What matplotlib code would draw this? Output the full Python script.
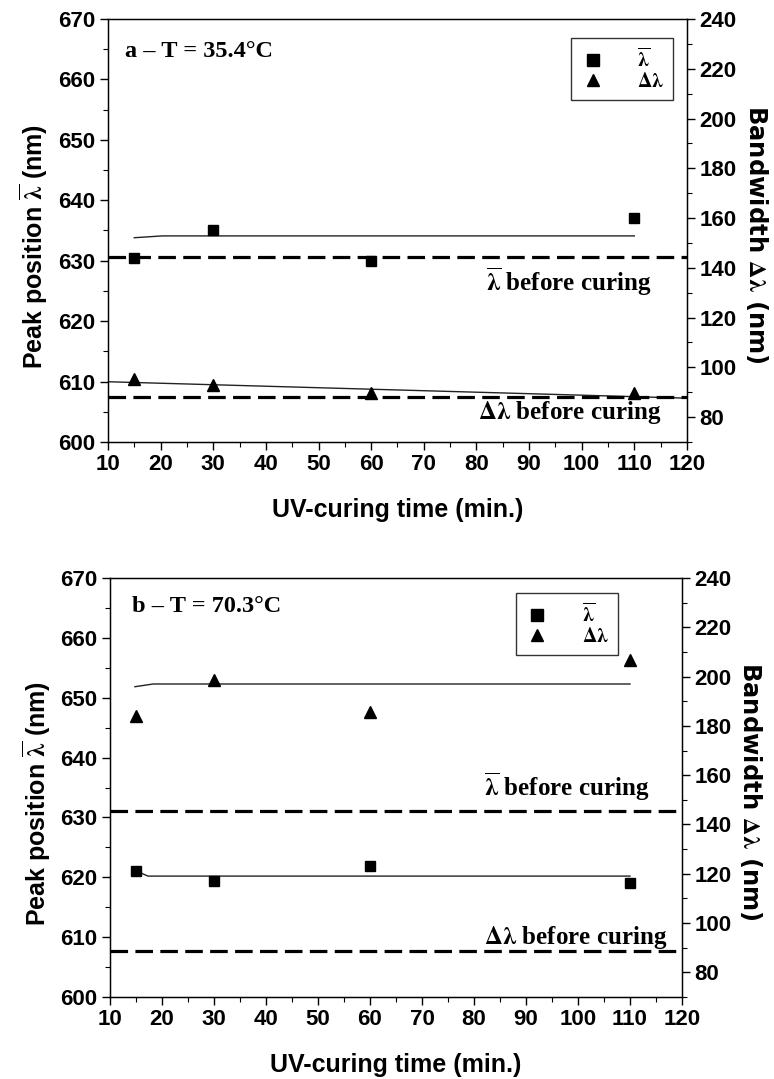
import matplotlib
matplotlib.use("Agg")
import matplotlib.pyplot as plt
from matplotlib.lines import Line2D
from matplotlib.ticker import MultipleLocator

plt.rcParams['font.family'] = ['Liberation Sans', 'DejaVu Sans']
plt.rcParams['mathtext.fontset'] = 'stix'

# ---------------- data ----------------
time_min = [15, 30, 60, 110]

# panel a (T = 35.4 C)
a_lam = [630.5, 635.1, 630.0, 637.1]          # left axis (nm)
a_dlam = [95.3, 92.9, 89.7, 89.7]             # right axis (nm)
a_lam_fit_x = [15, 20.3, 110]
a_lam_fit_y = [633.8, 634.1, 634.1]
a_dlam_fit_x = [10, 120]
a_dlam_fit_y = [94.2, 87.6]
a_lam_before = 630.6                          # left axis
a_dlam_before = 88.1                          # right axis

# panel b (T = 70.3 C)
b_lam = [621.0, 619.4, 621.9, 619.0]
b_dlam = [184.2, 198.7, 185.8, 206.8]
b_lam_fit_x = [16, 17.3, 110]
b_lam_fit_y = [620.7, 620.2, 620.2]
b_dlam_fit_x = [14.8, 18.3, 110]
b_dlam_fit_y = [195.9, 197.0, 197.0]
b_lam_before = 631.05
b_dlam_before = 88.7

xticks = list(range(10, 121, 10))
left_ticks = list(range(600, 671, 10))
right_ticks = list(range(80, 241, 20))

LAMBAR = r'$\mathbf{\overline{\lambda}}$'
DLAM = r'$\mathbf{\Delta\lambda}$'

fig = plt.figure(figsize=(7.74, 10.79), dpi=100)

SERIF = ['Liberation Serif', 'DejaVu Serif']
TICKFS = 16
LABELFS = 18


def panel(rect, lam, dlam, lfx, lfy, dfx, dfy, lam_before, dlam_before,
          title, title_xy, leg_anchor, lb_xy, db_xy):
    ax = fig.add_axes(rect)
    ax2 = ax.twinx()
    ax.set_xlim(10, 120)
    ax.set_ylim(600, 670)
    ax2.set_ylim(70, 240)
    ax.set_xticks(xticks)
    ax.set_yticks(left_ticks)
    ax2.set_yticks(right_ticks)
    ax.xaxis.set_minor_locator(MultipleLocator(5))
    ax.yaxis.set_minor_locator(MultipleLocator(5))
    ax2.yaxis.set_minor_locator(MultipleLocator(10))
    for a in (ax, ax2):
        a.tick_params(which='major', direction='out', length=6, width=1,
                      labelsize=TICKFS, pad=3)
        a.tick_params(which='minor', direction='out', length=3.5, width=0.8)
        for lab in a.get_xticklabels() + a.get_yticklabels():
            lab.set_fontweight('bold')
    ax.tick_params(axis='x', which='both', top=False)

    # fit lines
    ax.plot(lfx, lfy, color='#222222', lw=1.0)
    ax2.plot(dfx, dfy, color='#222222', lw=1.0)
    # before-curing lines
    ax.axhline(lam_before, color='black', lw=2.3, dashes=(5.5, 2.3))
    ax2.axhline(dlam_before, color='black', lw=2.3, dashes=(5.5, 2.3))
    # data
    ax.plot(time_min, lam, linestyle='none', marker='s', ms=7,
            color='black')
    ax2.plot(time_min, dlam, linestyle='none', marker='^', ms=8,
             color='black')

    ax.set_xlabel('UV-curing time (min.)', fontsize=LABELFS,
                  fontweight='bold', labelpad=16)
    ax.set_ylabel('Peak position ' + LAMBAR + ' (nm)',
                  fontsize=LABELFS, fontweight='bold')
    ax.yaxis.set_label_coords(-0.10, 0.462)
    ax2.set_ylabel('Bandwidth ' + DLAM + ' (nm)',
                   fontsize=17.5, fontweight='bold', rotation=270,
                   family=['DejaVu Sans'])
    ax2.yaxis.set_label_coords(1.143, 0.49)

    ax.text(title_xy[0], title_xy[1], title, transform=ax.transAxes,
            fontsize=17.5, fontweight='bold', family=SERIF,
            ha='left', va='center')
    ax.text(lb_xy[0], lb_xy[1], LAMBAR + ' before curing',
            transform=ax.transAxes, fontsize=18, fontweight='bold',
            family=SERIF, ha='center', va='center')
    ax.text(db_xy[0], db_xy[1], DLAM + ' before curing',
            transform=ax.transAxes, fontsize=18, fontweight='bold',
            family=SERIF, ha='center', va='center')

    h1 = Line2D([], [], linestyle='none', marker='s', ms=8, color='black')
    h2 = Line2D([], [], linestyle='none', marker='^', ms=9, color='black')
    leg = ax2.legend([h1, h2], [LAMBAR, DLAM], loc='upper right',
                     bbox_to_anchor=leg_anchor, frameon=True, fancybox=False,
                     edgecolor='black', fontsize=14.5, handletextpad=1.6,
                     borderpad=0.45, labelspacing=0.05, borderaxespad=0,
                     handlelength=1.2)
    leg.get_frame().set_linewidth(1.0)
    for s in ax.spines.values():
        s.set_linewidth(1.0)
    return ax


panel([0.1395, 0.5904, 0.748, 0.392], a_lam, a_dlam,
      a_lam_fit_x, a_lam_fit_y, a_dlam_fit_x, a_dlam_fit_y,
      a_lam_before, a_dlam_before,
      'a – T = 35.4°C', (0.029, 0.922), (0.976, 0.955),
      (0.795, 0.378), (0.798, 0.069))

panel([0.1421, 0.076, 0.739, 0.3883], b_lam, b_dlam,
      b_lam_fit_x, b_lam_fit_y, b_dlam_fit_x, b_dlam_fit_y,
      b_lam_before, b_dlam_before,
      'b – T = 70.3°C', (0.038, 0.931), (0.888, 0.964),
      (0.799, 0.501), (0.815, 0.143))

fig.savefig('out.png', dpi=100)
